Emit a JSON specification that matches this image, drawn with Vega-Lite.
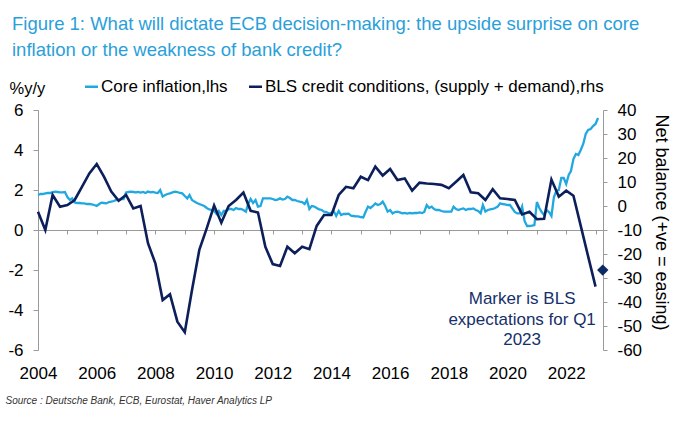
{
  "$schema": "https://vega.github.io/schema/vega-lite/v6.json",
  "width": 565,
  "height": 240,
  "autosize": "none",
  "padding": {"left": 38, "top": 110, "right": 77, "bottom": 72},
  "title": {
    "text": ["Figure 1: What will dictate ECB decision-making: the upside surprise on core", "inflation or the weakness of bank credit?"],
    "anchor": "start",
    "frame": "group",
    "dx": -26,
    "offset": 19,
    "fontSize": 18.5,
    "font": "Liberation Sans",
    "fontWeight": "normal",
    "color": "#2aa0da",
    "lineHeight": 26
  },
  "datasets": {
    "core": [
      {"d":"2004-01","v":1.75},{"d":"2004-02","v":1.8},{"d":"2004-03","v":1.8},{"d":"2004-04","v":1.83},{"d":"2004-05","v":1.85},{"d":"2004-06","v":1.85},{"d":"2004-07","v":1.9},{"d":"2004-08","v":1.92},{"d":"2004-09","v":1.9},{"d":"2004-10","v":1.88},{"d":"2004-11","v":1.88},{"d":"2004-12","v":1.9},
      {"d":"2005-01","v":1.65},{"d":"2005-02","v":1.5},{"d":"2005-03","v":1.58},{"d":"2005-04","v":1.38},{"d":"2005-05","v":1.35},{"d":"2005-06","v":1.35},{"d":"2005-07","v":1.33},{"d":"2005-08","v":1.33},{"d":"2005-09","v":1.3},{"d":"2005-10","v":1.3},{"d":"2005-11","v":1.28},{"d":"2005-12","v":1.25},
      {"d":"2006-01","v":1.2},{"d":"2006-02","v":1.3},{"d":"2006-03","v":1.37},{"d":"2006-04","v":1.35},{"d":"2006-05","v":1.33},{"d":"2006-06","v":1.4},{"d":"2006-07","v":1.42},{"d":"2006-08","v":1.45},{"d":"2006-09","v":1.5},{"d":"2006-10","v":1.5},{"d":"2006-11","v":1.55},{"d":"2006-12","v":1.55},
      {"d":"2007-01","v":1.87},{"d":"2007-02","v":1.9},{"d":"2007-03","v":1.92},{"d":"2007-04","v":1.9},{"d":"2007-05","v":1.88},{"d":"2007-06","v":1.9},{"d":"2007-07","v":1.87},{"d":"2007-08","v":1.9},{"d":"2007-09","v":1.85},{"d":"2007-10","v":1.92},{"d":"2007-11","v":1.88},{"d":"2007-12","v":1.9},
      {"d":"2008-01","v":1.87},{"d":"2008-02","v":1.85},{"d":"2008-03","v":2.0},{"d":"2008-04","v":1.67},{"d":"2008-05","v":1.75},{"d":"2008-06","v":1.8},{"d":"2008-07","v":1.83},{"d":"2008-08","v":1.88},{"d":"2008-09","v":1.92},{"d":"2008-10","v":1.9},{"d":"2008-11","v":1.85},{"d":"2008-12","v":1.83},
      {"d":"2009-01","v":1.7},{"d":"2009-02","v":1.58},{"d":"2009-03","v":1.75},{"d":"2009-04","v":1.5},{"d":"2009-05","v":1.42},{"d":"2009-06","v":1.35},{"d":"2009-07","v":1.3},{"d":"2009-08","v":1.25},{"d":"2009-09","v":1.2},{"d":"2009-10","v":1.1},{"d":"2009-11","v":1.03},{"d":"2009-12","v":1.0},
      {"d":"2010-01","v":0.95},{"d":"2010-02","v":0.8},{"d":"2010-03","v":0.95},{"d":"2010-04","v":0.75},{"d":"2010-05","v":0.95},{"d":"2010-06","v":0.95},{"d":"2010-07","v":1.05},{"d":"2010-08","v":1.05},{"d":"2010-09","v":1.0},{"d":"2010-10","v":1.1},{"d":"2010-11","v":1.05},{"d":"2010-12","v":1.05},
      {"d":"2011-01","v":1.0},{"d":"2011-02","v":0.92},{"d":"2011-03","v":1.3},{"d":"2011-04","v":1.55},{"d":"2011-05","v":1.35},{"d":"2011-06","v":1.5},{"d":"2011-07","v":1.17},{"d":"2011-08","v":1.2},{"d":"2011-09","v":1.58},{"d":"2011-10","v":1.58},{"d":"2011-11","v":1.58},{"d":"2011-12","v":1.58},
      {"d":"2012-01","v":1.55},{"d":"2012-02","v":1.5},{"d":"2012-03","v":1.52},{"d":"2012-04","v":1.58},{"d":"2012-05","v":1.52},{"d":"2012-06","v":1.55},{"d":"2012-07","v":1.67},{"d":"2012-08","v":1.6},{"d":"2012-09","v":1.5},{"d":"2012-10","v":1.5},{"d":"2012-11","v":1.45},{"d":"2012-12","v":1.42},
      {"d":"2013-01","v":1.4},{"d":"2013-02","v":1.3},{"d":"2013-03","v":1.5},{"d":"2013-04","v":1.05},{"d":"2013-05","v":1.2},{"d":"2013-06","v":1.17},{"d":"2013-07","v":1.1},{"d":"2013-08","v":1.03},{"d":"2013-09","v":1.0},{"d":"2013-10","v":0.92},{"d":"2013-11","v":0.9},{"d":"2013-12","v":0.83},
      {"d":"2014-01","v":0.85},{"d":"2014-02","v":0.92},{"d":"2014-03","v":0.7},{"d":"2014-04","v":0.95},{"d":"2014-05","v":0.75},{"d":"2014-06","v":0.8},{"d":"2014-07","v":0.8},{"d":"2014-08","v":0.82},{"d":"2014-09","v":0.72},{"d":"2014-10","v":0.7},{"d":"2014-11","v":0.68},{"d":"2014-12","v":0.68},
      {"d":"2015-01","v":0.65},{"d":"2015-02","v":0.63},{"d":"2015-03","v":0.9},{"d":"2015-04","v":1.17},{"d":"2015-05","v":1.1},{"d":"2015-06","v":1.2},{"d":"2015-07","v":1.33},{"d":"2015-08","v":1.25},{"d":"2015-09","v":1.3},{"d":"2015-10","v":1.42},{"d":"2015-11","v":1.2},{"d":"2015-12","v":0.92},
      {"d":"2016-01","v":1.0},{"d":"2016-02","v":0.83},{"d":"2016-03","v":0.9},{"d":"2016-04","v":0.92},{"d":"2016-05","v":0.88},{"d":"2016-06","v":0.83},{"d":"2016-07","v":0.85},{"d":"2016-08","v":0.82},{"d":"2016-09","v":0.85},{"d":"2016-10","v":0.83},{"d":"2016-11","v":0.85},{"d":"2016-12","v":0.85},
      {"d":"2017-01","v":0.88},{"d":"2017-02","v":0.85},{"d":"2017-03","v":0.9},{"d":"2017-04","v":1.25},{"d":"2017-05","v":1.1},{"d":"2017-06","v":1.17},{"d":"2017-07","v":1.05},{"d":"2017-08","v":1.0},{"d":"2017-09","v":1.0},{"d":"2017-10","v":0.95},{"d":"2017-11","v":0.92},{"d":"2017-12","v":0.92},
      {"d":"2018-01","v":0.92},{"d":"2018-02","v":0.92},{"d":"2018-03","v":1.17},{"d":"2018-04","v":1.05},{"d":"2018-05","v":1.0},{"d":"2018-06","v":1.05},{"d":"2018-07","v":1.08},{"d":"2018-08","v":1.0},{"d":"2018-09","v":1.05},{"d":"2018-10","v":1.05},{"d":"2018-11","v":1.08},{"d":"2018-12","v":1.0},
      {"d":"2019-01","v":0.95},{"d":"2019-02","v":0.83},{"d":"2019-03","v":1.25},{"d":"2019-04","v":0.92},{"d":"2019-05","v":1.0},{"d":"2019-06","v":1.03},{"d":"2019-07","v":1.05},{"d":"2019-08","v":1.1},{"d":"2019-09","v":1.17},{"d":"2019-10","v":1.33},{"d":"2019-11","v":1.3},{"d":"2019-12","v":1.28},
      {"d":"2020-01","v":1.25},{"d":"2020-02","v":1.25},{"d":"2020-03","v":1.08},{"d":"2020-04","v":0.9},{"d":"2020-05","v":0.83},{"d":"2020-06","v":0.83},{"d":"2020-07","v":1.17},{"d":"2020-08","v":0.45},{"d":"2020-09","v":0.2},{"d":"2020-10","v":0.2},{"d":"2020-11","v":0.22},{"d":"2020-12","v":0.25},
      {"d":"2021-01","v":1.4},{"d":"2021-02","v":1.1},{"d":"2021-03","v":0.9},{"d":"2021-04","v":0.75},{"d":"2021-05","v":1.0},{"d":"2021-06","v":0.9},{"d":"2021-07","v":0.7},{"d":"2021-08","v":1.65},{"d":"2021-09","v":1.95},{"d":"2021-10","v":2.0},{"d":"2021-11","v":2.6},{"d":"2021-12","v":2.6},
      {"d":"2022-01","v":2.3},{"d":"2022-02","v":2.75},{"d":"2022-03","v":2.95},{"d":"2022-04","v":3.55},{"d":"2022-05","v":3.8},{"d":"2022-06","v":3.75},{"d":"2022-07","v":4.0},{"d":"2022-08","v":4.3},{"d":"2022-09","v":4.8},{"d":"2022-10","v":5.0},{"d":"2022-11","v":5.05},{"d":"2022-12","v":5.2},
      {"d":"2023-01","v":5.3},{"d":"2023-02","v":5.6}
    ],
    "bls": [
      {"d":"2004-01","v":-2.4},{"d":"2004-04","v":-10},{"d":"2004-07","v":4.6},{"d":"2004-10","v":-0.3},
      {"d":"2005-01","v":0.4},{"d":"2005-04","v":2.5},{"d":"2005-07","v":8},{"d":"2005-10","v":13.6},
      {"d":"2006-01","v":17.5},{"d":"2006-04","v":12.2},{"d":"2006-07","v":6},{"d":"2006-10","v":2.2},
      {"d":"2007-01","v":4.6},{"d":"2007-04","v":-1},{"d":"2007-07","v":0},{"d":"2007-10","v":-15.5},
      {"d":"2008-01","v":-23.9},{"d":"2008-04","v":-39.2},{"d":"2008-07","v":-36.8},{"d":"2008-10","v":-48.2},
      {"d":"2009-01","v":-52.6},{"d":"2009-04","v":-35},{"d":"2009-07","v":-18.3},{"d":"2009-10","v":-9.3},
      {"d":"2010-01","v":0.2},{"d":"2010-04","v":-7},{"d":"2010-07","v":0},{"d":"2010-10","v":2.5},
      {"d":"2011-01","v":5.6},{"d":"2011-04","v":-2},{"d":"2011-07","v":-2.7},{"d":"2011-10","v":-17},
      {"d":"2012-01","v":-24.2},{"d":"2012-04","v":-25},{"d":"2012-07","v":-17},{"d":"2012-10","v":-19.7},
      {"d":"2013-01","v":-17},{"d":"2013-04","v":-18},{"d":"2013-07","v":-8.3},{"d":"2013-10","v":-3.75},
      {"d":"2014-01","v":-3.75},{"d":"2014-04","v":4.6},{"d":"2014-07","v":8},{"d":"2014-10","v":7.4},
      {"d":"2015-01","v":12.2},{"d":"2015-04","v":10.8},{"d":"2015-07","v":16.4},{"d":"2015-10","v":12.7},
      {"d":"2016-01","v":15.4},{"d":"2016-04","v":10.8},{"d":"2016-07","v":11.5},{"d":"2016-10","v":6.4},
      {"d":"2017-01","v":9.7},{"d":"2017-04","v":9.4},{"d":"2017-07","v":9.2},{"d":"2017-10","v":8.8},
      {"d":"2018-01","v":7.4},{"d":"2018-04","v":10.1},{"d":"2018-07","v":12.9},{"d":"2018-10","v":5.7},
      {"d":"2019-01","v":5.3},{"d":"2019-04","v":2.5},{"d":"2019-07","v":7},{"d":"2019-10","v":3.2},
      {"d":"2020-01","v":2.9},{"d":"2020-04","v":2.5},{"d":"2020-07","v":-3.5},{"d":"2020-10","v":-2.4},
      {"d":"2021-01","v":-5.5},{"d":"2021-04","v":-5.3},{"d":"2021-07","v":11},{"d":"2021-10","v":3.9},
      {"d":"2022-01","v":6.4},{"d":"2022-04","v":4.3},{"d":"2022-07","v":-8.3},{"d":"2022-10","v":-21},
      {"d":"2023-01","v":-33.6}
    ],
    "marker": [{"d":"2023-04","v":-26.7}],
    "note": [{"d":"2020-07","v":-41,"label":"Marker is BLS\nexpectations for Q1\n2023"}]
  },
  "encoding": {
    "x": {
      "field": "d",
      "type": "temporal",
      "scale": {"type": "utc", "nice": false, "domain": [{"year":2004,"month":1,"date":1,"utc":true},{"year":2023,"month":4,"date":4,"utc":true}]},
      "axis": {
        "orient": "bottom",
        "offset": -120,
        "values": [{"year":2004,"utc":true},{"year":2005,"utc":true},{"year":2006,"utc":true},{"year":2007,"utc":true},{"year":2008,"utc":true},{"year":2009,"utc":true},{"year":2010,"utc":true},{"year":2011,"utc":true},{"year":2012,"utc":true},{"year":2013,"utc":true},{"year":2014,"utc":true},{"year":2015,"utc":true},{"year":2016,"utc":true},{"year":2017,"utc":true},{"year":2018,"utc":true},{"year":2019,"utc":true},{"year":2020,"utc":true},{"year":2021,"utc":true},{"year":2022,"utc":true},{"year":2023,"utc":true}],
        "labelExpr": "utcyear(datum.value) % 2 === 0 ? utcFormat(datum.value, '%Y') : ''",
        "labelFlush": false,
        "labelOverlap": false,
        "tickSize": 4,
        "labelPadding": 144,
        "labelBaseline": "alphabetic",
        "labelFontSize": 17,
        "labelColor": "#000",
        "domainColor": "#9a9a9a",
        "tickColor": "#9a9a9a",
        "title": "Source : Deutsche Bank, ECB, Eurostat, Haver Analytics LP",
        "titleX": -33,
        "titleY": 170,
        "titleAlign": "left",
        "titleBaseline": "middle",
        "titleFontSize": 10,
        "titleFontStyle": "italic",
        "titleFontWeight": "normal",
        "titleColor": "#333"
      }
    }
  },
  "layer": [
    {
      "data": {"name": "core"},
      "mark": {"type": "line", "strokeWidth": 2.3},
      "encoding": {
        "y": {
          "field": "v",
          "type": "quantitative",
          "scale": {"domain": [-6, 6], "nice": false},
          "axis": {
            "orient": "left",
            "values": [-6, -4, -2, 0, 2, 4, 6],
            "labelExpr": "(datum.value < 0 ? '-' : '') + abs(datum.value)",
            "tickSize": 5,
            "labelPadding": 10,
            "labelFontSize": 17,
            "labelColor": "#000",
            "domainColor": "#9a9a9a",
            "tickColor": "#9a9a9a",
            "title": "%y/y",
            "titleAngle": 0,
            "titleX": -29,
            "titleY": -22,
            "titleAlign": "left",
            "titleBaseline": "middle",
            "titleFontSize": 16.5,
            "titleFontWeight": "normal",
            "titleColor": "#000"
          }
        },
        "color": {
          "datum": "Core inflation,lhs",
          "type": "nominal",
          "scale": {"domain": ["Core inflation,lhs", "BLS credit conditions, (supply + demand),rhs"], "range": ["#21a8e1", "#0c1f5b"]},
          "legend": {
            "orient": "none",
            "legendX": 45,
            "legendY": -32,
            "direction": "horizontal",
            "title": null,
            "symbolType": "stroke",
            "symbolStrokeWidth": 2.5,
            "symbolSize": 169,
            "labelFontSize": 17,
            "labelColor": "#000",
            "labelLimit": 600,
            "labelOffset": 1,
            "columnPadding": 16
          }
        }
      }
    },
    {
      "encoding": {
        "y": {
          "field": "v",
          "type": "quantitative",
          "scale": {"domain": [-60, 40], "nice": false},
          "axis": {
            "orient": "right",
            "values": [-60, -50, -40, -30, -20, -10, 0, 10, 20, 30, 40],
            "labelExpr": "(datum.value < 0 ? '-' : '') + abs(datum.value)",
            "tickSize": 4,
            "labelPadding": 10,
            "labelFontSize": 17,
            "labelColor": "#000",
            "domainColor": "#9a9a9a",
            "tickColor": "#9a9a9a",
            "title": "Net balance (+ve = easing)",
            "titleAngle": 90,
            "titleX": 57,
            "titleY": 112,
            "titleAlign": "center",
            "titleBaseline": "middle",
            "titleFontSize": 18,
            "titleFontWeight": "normal",
            "titleColor": "#000"
          }
        }
      },
      "layer": [
        {
          "data": {"name": "bls"},
          "mark": {"type": "line", "strokeWidth": 2.6},
          "encoding": {
            "color": {"datum": "BLS credit conditions, (supply + demand),rhs", "type": "nominal"}
          }
        },
        {
          "data": {"name": "marker"},
          "mark": {"type": "point", "shape": "diamond", "filled": true, "size": 130, "color": "#0c2a66", "opacity": 1}
        },
        {
          "data": {"name": "note"},
          "mark": {"type": "text", "align": "center", "baseline": "alphabetic", "fontSize": 17, "lineHeight": 20.5, "lineBreak": "\n", "color": "#16306b", "font": "Liberation Sans"},
          "encoding": {"text": {"field": "label"}}
        }
      ]
    }
  ],
  "resolve": {"scale": {"y": "independent"}},
  "config": {
    "view": {"stroke": null},
    "font": "Liberation Sans",
    "axis": {"grid": false, "labelFont": "Liberation Sans", "titleFont": "Liberation Sans"},
    "legend": {"labelFont": "Liberation Sans"}
  }
}
